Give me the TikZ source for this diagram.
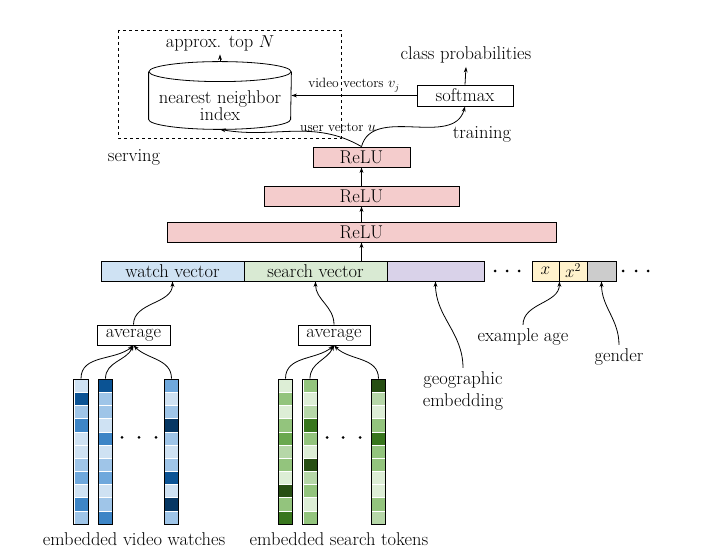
\documentclass[tikz,border=0pt]{standalone}
\usepackage{fontspec}
\usetikzlibrary{arrows.meta}
\definecolor{relupink}{HTML}{F4CCCC}
\definecolor{watchblue}{HTML}{CFE2F3}
\definecolor{searchgreen}{HTML}{D9EAD3}
\definecolor{geopurple}{HTML}{D9D2E9}
\definecolor{ageyellow}{HTML}{FFF2CC}
\definecolor{gendergray}{HTML}{CCCCCC}
\definecolor{b1}{HTML}{CFE2F3}
\definecolor{b2}{HTML}{9FC5E8}
\definecolor{b3}{HTML}{6FA8DC}
\definecolor{b4}{HTML}{3D85C6}
\definecolor{b5}{HTML}{0B5394}
\definecolor{b6}{HTML}{073763}
\definecolor{g1}{HTML}{DDEED6}
\definecolor{g2}{HTML}{B6D7A8}
\definecolor{g3}{HTML}{93C47D}
\definecolor{g4}{HTML}{6AA84F}
\definecolor{g5}{HTML}{38761D}
\definecolor{g6}{HTML}{274E13}
\begin{document}
\begin{tikzpicture}[x=1pt,y=1pt,line width=0.8pt,
    font=\fontsize{18.5}{17}\selectfont,
    >={Stealth[length=5.5pt,width=3.8pt]},
    box/.style={draw,inner sep=0pt,minimum height=20pt},
    relu/.style={box,fill=relupink},
    small/.style={font=\fontsize{13.5}{13}\selectfont},
    embcol/.style={draw,inner sep=0pt,minimum width=14.5pt,minimum height=145pt}]
\useasboundingbox (0,0) rectangle (720,559);

\draw[dashed,line width=0.7pt] (118,529) rectangle (341,421);
\node (topn) at (220,516) {approx. top $N$};
\node[align=center,inner sep=0pt,minimum width=142pt,minimum height=47pt] (nn) at (220,453.5) {nearest neighbor\\index};
\draw ([yshift=10pt]nn.north west) -- ([yshift=10pt]nn.south west)
    arc[start angle=180,end angle=360,x radius=71pt,y radius=10pt] -- ([yshift=10pt]nn.north east);
\draw ([yshift=10pt]nn.north) ellipse[x radius=71pt,y radius=10pt];
\draw[->] ([yshift=20pt]nn.north) -- (topn.south);
\node[box,minimum width=96pt,minimum height=21pt] (sm) at (465,463.5) {softmax};
\node (cp) at (466,504) {class probabilities};
\draw[->] (sm.north) -- (cp.south);
\draw[->] (sm.west) -- node[small,above]{video vectors $v_j$} (sm.west -| nn.east);
\node (train) at (482,425) {training};
\node (serve) at (134,402) {serving};

\node[relu,minimum width=97pt] (r1) at (361.5,402) {ReLU};
\node[relu,minimum width=195pt] (r2) at (361.5,363) {ReLU};
\node[relu,minimum width=389pt] (r3) at (361.5,327) {ReLU};
\node[small] (uvl) at (338,432) {user vector $u$};
\draw[->] (r1.north) to[out=150,in=-10] (nn.south);
\draw[->] (r1.north) to[out=75,in=-105] (sm.south);
\draw[->] (r2.north) -- (r1.south);
\draw[->] (r3.north) -- (r2.south);

\node[box,fill=watchblue,minimum width=143pt] (wv) at (172.5,288) {watch vector};
\node[box,fill=searchgreen,minimum width=143pt] (sv) at (315.5,288) {search vector};
\node[box,fill=geopurple,minimum width=97pt] (gv) at (435.5,288) {};
\node[box,fill=ageyellow,minimum width=27pt] (xa) at (545.5,288) {$x$};
\node[box,fill=ageyellow,minimum width=28pt] (xb) at (573,288) {$x^2$};
\node[box,fill=gendergray,minimum width=29pt] (gb) at (601.5,288) {};
\draw[->] (sv.north -| r3.south) -- (r3.south);
\foreach \dx in {495,507,519,623,636,648}
    \fill (\dx,288) circle[radius=1.5pt];

\node[box,minimum width=73pt] (avA) at (133.5,224) {average};
\node[box,minimum width=72pt] (avB) at (334,224) {average};
\draw[->] (avA.north) to[out=90,in=-90] (wv.south);
\draw[->] (avB.north) to[out=90,in=-90] (sv.south);

\foreach \cname/\cx/\cols in {
    wc1/81/{b1,b5,b2,b4,b1,b1,b2,b3,b1,b4,b2},
    wc2/105.5/{b5,b2,b2,b1,b4,b1,b2,b3,b1,b2,b4},
    wc3/171.5/{b3,b1,b2,b6,b2,b1,b2,b5,b1,b6,b2},
    sc1/285.5/{g1,g3,g1,g3,g4,g2,g3,g1,g6,g3,g5},
    sc2/310/{g3,g1,g2,g5,g3,g1,g6,g2,g3,g1,g3},
    sc3/378.5/{g6,g2,g1,g3,g5,g3,g3,g1,g1,g3,g2}} {
  \foreach \c [count=\i] in \cols
    \filldraw[fill=\c,draw=white,line width=0.4pt] ({\cx-7.25},{180-(\i-1)*13.1818}) rectangle ++(14.5,-13.1818);
  \node[embcol] (\cname) at (\cx,107.5) {};
}
\foreach \dx in {122,139,156,327,343,360}
    \fill (\dx,121.5) circle[radius=1.5pt];
\draw[->] (wc1.north) to[out=90,in=-140] (avA.south);
\draw[->] (wc2.north) to[out=90,in=-115] (avA.south);
\draw[->] (wc3.north) to[out=90,in=-45] (avA.south);
\draw[->] (sc1.north) to[out=90,in=-140] (avB.south);
\draw[->] (sc2.north) to[out=90,in=-115] (avB.south);
\draw[->] (sc3.north) to[out=90,in=-45] (avB.south);
\node (wlab) at (134,20) {embedded video watches};
\node (slab) at (339,20) {embedded search tokens};

\node[align=center,font=\fontsize{18.5}{22}\selectfont] (geo) at (463,168) {geographic\\embedding};
\node (age) at (523,222) {example age};
\node (gen) at (619,202) {gender};
\draw[->] (geo.north) to[out=90,in=-90] (gv.south);
\draw[->] (age.north) to[out=90,in=-90] (xa.south east);
\draw[->] (gen.north) to[out=90,in=-90] (gb.south);
\end{tikzpicture}
\end{document}
